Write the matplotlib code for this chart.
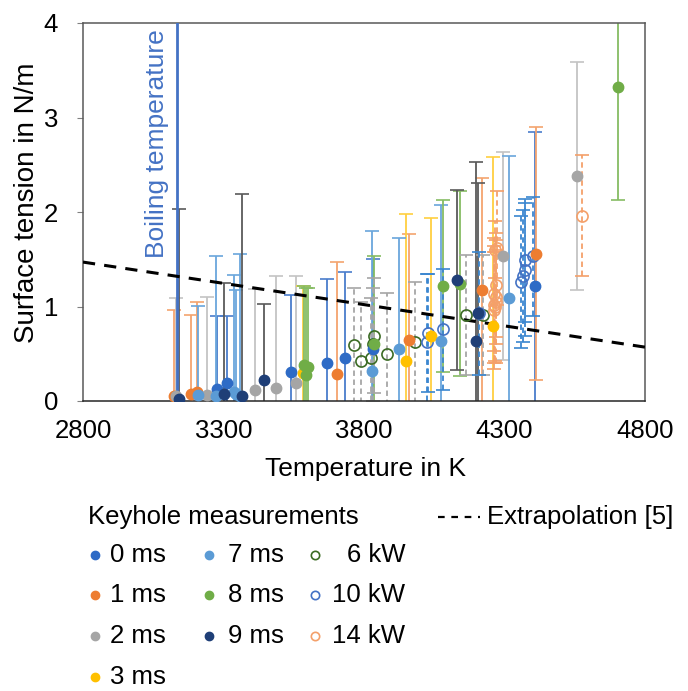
import numpy as np
import matplotlib
matplotlib.use("Agg")
import matplotlib.pyplot as plt
from matplotlib.lines import Line2D

plt.rcParams['font.family'] = ['Liberation Sans', 'DejaVu Sans']

# ---- data (temperature in K, surface tension in N/m, error) ----
t_0ms = [3277, 3312, 3539, 3670, 3732, 3833, 4409]
s_0ms = [0.13, 0.19, 0.31, 0.40, 0.45, 0.55, 1.22]
e_0ms = [0.77, 0.71, 0.81, 0.89, 0.92, 0.95, 1.63]

t_1ms = [3124, 3183, 3207, 3703, 3961, 4221, 4412]
s_1ms = [0.05, 0.07, 0.09, 0.29, 0.65, 1.17, 1.56]
e_1ms = [0.91, 0.84, 0.96, 1.18, 1.12, 1.19, 1.34]

t_2ms = [3131, 3241, 3412, 3486, 3557, 4293, 4557]
s_2ms = [0.05, 0.06, 0.12, 0.14, 0.19, 1.53, 2.38]
e_2ms = [1.04, 1.04, 1.07, 1.18, 1.13, 1.10, 1.21]

t_3ms = [3584, 3949, 4038, 4260]
s_3ms = [0.30, 0.42, 0.69, 0.79]
e_3ms = [0.92, 1.56, 1.25, 1.79]

t_7ms = [3208, 3272, 3337, 3344, 3358, 3830, 3926, 4073, 4316]
s_7ms = [0.06, 0.05, 0.09, 0.07, 0.05, 0.32, 0.55, 0.64, 1.09]
e_7ms = [0.95, 1.48, 1.24, 1.10, 1.51, 1.48, 1.18, 1.43, 1.50]

t_8ms = [3588, 3599, 3594, 3837, 4080, 4142, 4704]
s_8ms = [0.38, 0.36, 0.28, 0.60, 1.22, 1.24, 3.32]
e_8ms = [0.84, 0.84, 0.92, 0.93, 0.91, 0.98, 1.19]

t_9ms = [3143, 3303, 3365, 3444, 4130, 4197, 4207]
s_9ms = [0.02, 0.07, 0.05, 0.22, 1.28, 0.63, 0.93]
e_9ms = [2.01, 1.18, 2.14, 0.81, 0.95, 1.90, 1.38]

t_6kw = [3766, 3789, 3824, 3836, 3831, 3881, 3982, 4163, 4225]
s_6kw = [0.59, 0.42, 0.45, 0.69, 0.60, 0.50, 0.62, 0.91, 0.91]
e_6kw = [0.61, 0.63, 0.64, 0.61, 0.60, 0.64, 0.64, 0.63, 0.63]

t_10kw = [4023, 4029, 4080, 4209, 4358, 4365, 4373, 4373, 4403]
s_10kw = [0.62, 0.72, 0.76, 0.93, 1.26, 1.32, 1.39, 1.49, 1.53]
e_10kw = [0.72, 0.62, 0.64, 0.65, 0.70, 0.70, 0.70, 0.65, 0.63]

t_14kw = [4272, 4265, 4270, 4263, 4268, 4262, 4266, 4264, 4270, 4575]
s_14kw = [1.62, 1.60, 1.23, 1.13, 1.05, 1.02, 1.00, 0.96, 1.10, 1.96]
e_14kw = [0.60, 0.30, 0.55, 0.60, 0.65, 0.62, 0.58, 0.62, 0.50, 0.64]

extrap_t = [2800, 4800]
extrap_s = [1.47, 0.57]
boiling_t = 3134

# ---- figure ----
W, H = 688, 691
fig = plt.figure(figsize=(W / 100, H / 100), dpi=100)
ax = fig.add_axes([83 / W, 1 - 401 / H, (645 - 83) / W, (401 - 23) / H])

def fx(px):
    return px / W

def fy(py):
    return 1 - py / H

# (dot colour, bar colour, dashed bars, open marker)
series = [
    (t_0ms, s_0ms, e_0ms, '#2E6BC6', '#4A7DCC', False, False),
    (t_1ms, s_1ms, e_1ms, '#ED7D31', '#F4A46E', False, False),
    (t_2ms, s_2ms, e_2ms, '#A5A5A5', '#C4C4C4', False, False),
    (t_3ms, s_3ms, e_3ms, '#FFC000', '#FFCF40', False, False),
    (t_7ms, s_7ms, e_7ms, '#5B9BD5', '#6AA6DC', False, False),
    (t_8ms, s_8ms, e_8ms, '#70AD47', '#86BC63', False, False),
    (t_9ms, s_9ms, e_9ms, '#1F3F77', '#5A5A5A', False, False),
    (t_6kw, s_6kw, e_6kw, '#3B6B24', '#A6A6A6', True, True),
    (t_10kw, s_10kw, e_10kw, '#4472C4', '#3A86D0', True, True),
    (t_14kw, s_14kw, e_14kw, '#F4A06A', '#F4A06A', True, True),
]

# error bars first
for t, s, e, c, bc, dashed, op in series:
    eb = ax.errorbar(t, s, yerr=e, fmt='none', ecolor=bc, elinewidth=1.3,
                     capsize=5, capthick=1.2, zorder=2)
    if dashed:
        eb[2][0].set_linestyle((0, (3, 2)))

ax.plot(extrap_t, extrap_s, color='black', lw=2.2, ls=(0, (4, 3)), zorder=4)
ax.axvline(boiling_t, color='#4472C4', lw=2, zorder=3)
ax.text(3062, 2.72, 'Boiling temperature', rotation=90, color='#4472C4',
        fontsize=19, ha='center', va='center')

# markers on top
for t, s, e, c, bc, dashed, op in series:
    if op:
        ax.plot(t, s, 'o', ms=8, mfc='none', mec=c, mew=1.2, ls='none', zorder=5)
    else:
        ax.plot(t, s, 'o', ms=7.5, color=c, ls='none', zorder=6)

ax.set_xlim(2800, 4800)
ax.set_ylim(0, 4)
ax.set_xticks([2800, 3300, 3800, 4300, 4800])
ax.set_yticks([0, 1, 2, 3, 4])
ax.tick_params(axis='x', length=0, pad=13, labelsize=18.5)
ax.tick_params(axis='y', length=4, color='#808080', pad=14, labelsize=18.5)
for sp in ax.spines.values():
    sp.set_color('#595959')
    sp.set_linewidth(1.1)
ax.spines['bottom'].set_color('#262626')

ax.set_xlabel('Temperature in K', fontsize=19)
ax.xaxis.set_label_coords(0.502, -0.148)
ax.set_ylabel('Surface tension in N/m', fontsize=20)
ax.yaxis.set_label_coords(-0.077, 0.525)

# ---- legend below the chart ----
fig.text(fx(88), fy(517), 'Keyhole measurements', fontsize=18.5, va='center', ha='left')
fig.add_artist(Line2D([fx(438), fx(480)], [fy(517), fy(517)], color='black',
                      lw=1.6, ls=(0, (3, 3))))
fig.text(fx(487), fy(517), 'Extrapolation [5]', fontsize=18.5, va='center', ha='left')

rows = [555, 595, 636, 677]
leg_items = [
    (95, 110, 0, '0 ms', '#2E6BC6', False),
    (95, 110, 1, '1 ms', '#ED7D31', False),
    (95, 110, 2, '2 ms', '#A5A5A5', False),
    (95, 110, 3, '3 ms', '#FFC000', False),
    (209, 228, 0, '7 ms', '#5B9BD5', False),
    (209, 228, 1, '8 ms', '#70AD47', False),
    (209, 228, 2, '9 ms', '#1F3F77', False),
    (315, 405, 0, '6 kW', '#3B6B24', True),
    (315, 405, 1, '10 kW', '#4472C4', True),
    (315, 405, 2, '14 kW', '#F4A06A', True),
]
for mx, tx, r, lab, c, op in leg_items:
    y = fy(rows[r])
    if op:
        fig.add_artist(Line2D([fx(mx)], [y], marker='o', ms=6, mfc='white',
                              mec=c, mew=1.2, ls='none'))
        fig.text(fx(tx), y, lab, fontsize=18.5, va='center', ha='right')
    else:
        fig.add_artist(Line2D([fx(mx)], [y], marker='o', ms=6, color=c, ls='none'))
        fig.text(fx(tx), y, lab, fontsize=18.5, va='center', ha='left')

fig.savefig('out.png', dpi=100)
